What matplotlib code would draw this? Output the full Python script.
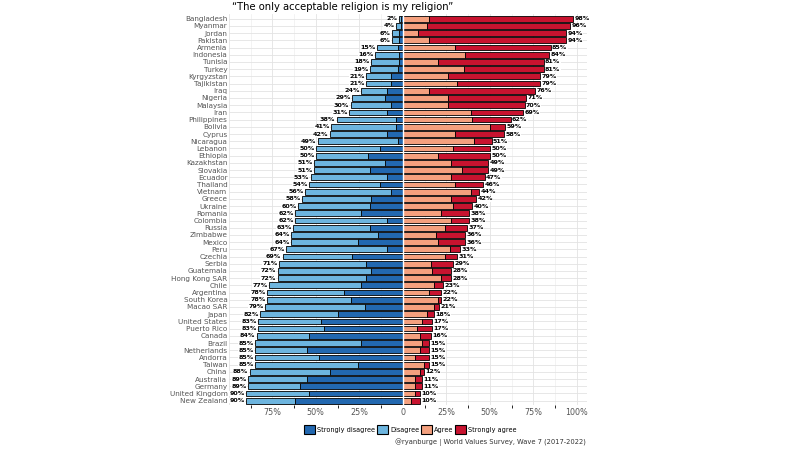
import numpy as np
import matplotlib.pyplot as plt
from matplotlib.patches import Patch

plt.rcParams['font.family'] = ['Liberation Sans Narrow', 'DejaVu Sans']

paises = ['Bangladesh', 'Myanmar', 'Jordan', 'Pakistan', 'Armenia', 'Indonesia', 'Tunisia',
          'Turkey', 'Kyrgyzstan', 'Tajikistan', 'Iraq', 'Nigeria', 'Malaysia', 'Iran',
          'Philippines', 'Bolivia', 'Cyprus', 'Nicaragua', 'Lebanon', 'Ethiopia', 'Kazakhstan',
          'Slovakia', 'Ecuador', 'Thailand', 'Vietnam', 'Greece', 'Ukraine', 'Romania',
          'Colombia', 'Russia', 'Zimbabwe', 'Mexico', 'Peru', 'Czechia', 'Serbia', 'Guatemala',
          'Hong Kong SAR', 'Chile', 'Argentina', 'South Korea', 'Macao SAR', 'Japan',
          'United States', 'Puerto Rico', 'Canada', 'Brazil', 'Netherlands', 'Andorra',
          'Taiwan', 'China', 'Australia', 'Germany', 'United Kingdom', 'New Zealand']

# porcentagens por categoria
discorda_forte = [1, 1, 2, 2, 3, 2, 2, 3, 7, 7, 9, 10, 7, 9, 4, 4, 9, 3, 13, 20, 10, 19, 9, 13,
                  7, 18, 19, 24, 9, 19, 14, 26, 9, 29, 21, 18, 21, 24, 34, 30, 22, 37, 47, 45,
                  54, 24, 55, 48, 26, 42, 55, 59, 54, 62]
discorda = [1, 3, 4, 4, 12, 14, 16, 16, 14, 14, 15, 19, 23, 22, 34, 37, 33, 46, 37, 30, 41, 32,
            44, 41, 49, 40, 41, 38, 53, 44, 50, 38, 58, 40, 50, 54, 51, 53, 44, 48, 57, 45, 36,
            38, 30, 61, 30, 37, 59, 46, 34, 30, 36, 28]
concorda = [15, 14, 9, 15, 30, 36, 20, 35, 26, 31, 15, 26, 26, 39, 40, 50, 30, 41, 29, 20, 28,
            34, 28, 30, 39, 28, 29, 22, 28, 24, 19, 20, 27, 24, 16, 17, 22, 18, 15, 20, 18, 14,
            11, 8, 10, 11, 10, 7, 12, 10, 7, 7, 7, 5]
concorda_forte = [83, 82, 85, 79, 55, 48, 61, 46, 53, 48, 61, 45, 44, 30, 22, 9, 28, 10, 21, 30,
                  21, 15, 19, 16, 5, 14, 11, 16, 10, 13, 17, 16, 6, 7, 13, 11, 6, 5, 7, 2, 3, 4,
                  6, 9, 6, 4, 5, 8, 3, 2, 4, 4, 3, 5]
total_discorda = [2, 4, 6, 6, 15, 16, 18, 19, 21, 21, 24, 29, 30, 31, 38, 41, 42, 49, 50, 50, 51,
                  51, 53, 54, 56, 58, 60, 62, 62, 63, 64, 64, 67, 69, 71, 72, 72, 77, 78, 78, 79,
                  82, 83, 83, 84, 85, 85, 85, 85, 88, 89, 89, 90, 90]
total_concorda = [98, 96, 94, 94, 85, 84, 81, 81, 79, 79, 76, 71, 70, 69, 62, 59, 58, 51, 50, 50,
                  49, 49, 47, 46, 44, 42, 40, 38, 38, 37, 36, 36, 33, 31, 29, 28, 28, 23, 22, 22,
                  21, 18, 17, 17, 16, 15, 15, 15, 15, 12, 11, 11, 10, 10]

cores = {'Strongly disagree': '#2268b0', 'Disagree': '#6db5df',
         'Agree': '#f4a07e', 'Strongly agree': '#c8132f'}

y = np.arange(len(paises))
sd = np.array(discorda_forte)
d = np.array(discorda)
a = np.array(concorda)
sa = np.array(concorda_forte)

fig = plt.figure(figsize=(8, 4.5), dpi=100)
ax = fig.add_axes([0.286, 0.1, 0.448, 0.868])

h = 0.8
kw = dict(height=h, edgecolor='black', linewidth=0.6, zorder=3)
ax.barh(y, -sd, color=cores['Strongly disagree'], **kw)
ax.barh(y, -d, left=-sd, color=cores['Disagree'], **kw)
ax.barh(y, a, color=cores['Agree'], **kw)
ax.barh(y, sa, left=a, color=cores['Strongly agree'], **kw)
ax.axvline(0, color='white', lw=1.0, zorder=4)

for i in range(len(paises)):
    ax.text(-(sd[i] + d[i]) - 0.8, i, f'{total_discorda[i]}%', ha='right', va='center',
            fontsize=4.6, fontweight='bold', zorder=5,
            bbox=dict(facecolor='white', edgecolor='none', pad=0.2))
    ax.text(a[i] + sa[i] + 0.8, i, f'{total_concorda[i]}%', ha='left', va='center',
            fontsize=4.6, fontweight='bold', zorder=5,
            bbox=dict(facecolor='white', edgecolor='none', pad=0.2))

ax.set_yticks(y)
ax.set_yticklabels(paises, fontsize=5.2, color='#555555')
ax.set_ylim(len(paises) - 0.4, -0.6)
ax.set_xlim(-100, 106)
ax.set_xticks([-100, -75, -50, -25, 0, 25, 50, 75, 100])
ax.set_xticklabels(['', '75%', '50%', '25%', '0', '25%', '50%', '75%', '100%'],
                   fontsize=5.8, color='#555555')
ax.set_xticks(np.arange(-87.5, 106, 25), minor=True)
ax.tick_params(length=0, pad=2)
ax.tick_params(axis='y', pad=1)
ax.grid(True, which='major', color='#e3e3e3', lw=0.6, zorder=0)
ax.grid(True, which='minor', axis='x', color='#efefef', lw=0.5, zorder=0)
for s in ax.spines.values():
    s.set_visible(False)

ax.set_title('\u201cThe only acceptable religion is my religion\u201d', loc='left',
             fontsize=7.2, pad=3, x=0.01)

handles = [Patch(facecolor=c, edgecolor='black', linewidth=0.8, label=k) for k, c in cores.items()]
fig.legend(handles=handles, loc='center', bbox_to_anchor=(0.513, 0.045), ncol=4,
           frameon=False, fontsize=4.7, handlelength=1.7, handleheight=1.7,
           columnspacing=0.3, handletextpad=0.3)
fig.text(0.732, 0.01, '@ryanburge | World Values Survey, Wave 7 (2017-2022)',
         ha='right', va='bottom', fontsize=4.9, color='#333333')

plt.savefig('out.png', dpi=100)
